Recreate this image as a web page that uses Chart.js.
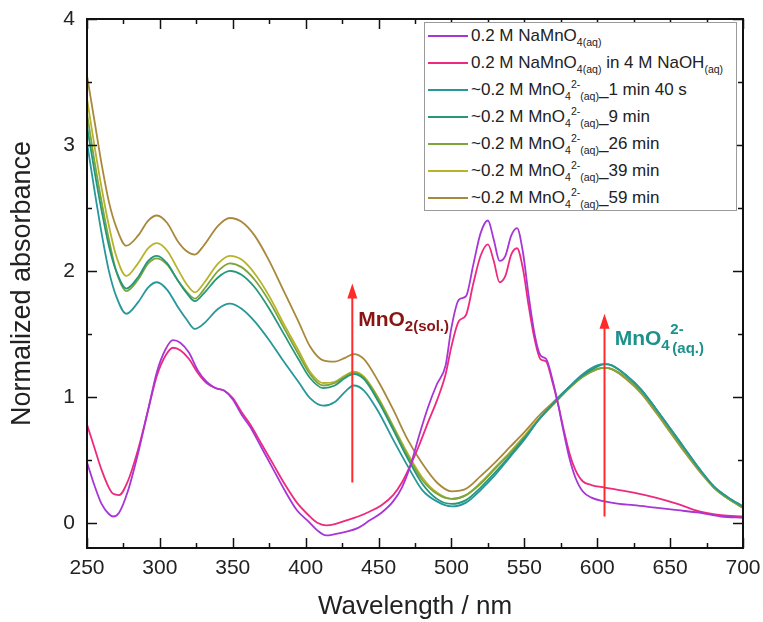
<!DOCTYPE html>
<html>
<head>
<meta charset="utf-8">
<script src="https://cdn.jsdelivr.net/npm/chart.js@4.4.1/dist/chart.umd.min.js"></script>
<style>
  body { margin: 0; background: #fff; }
  #wrap { position: relative; width: 763px; height: 622px; overflow: hidden; }
  #legend {
    position: absolute; left: 424px; top: 22px; width: 313px; height: 189px;
    border: 1px solid #9a9a9a; background: #fff; box-sizing: border-box;
    font-family: "Liberation Sans", Arial, sans-serif; font-size: 17px; color: #222;
  }
  .row { position: absolute; left: 0; height: 20px; white-space: nowrap; }
  .row .ln { position: absolute; left: 3px; top: 9px; width: 40px; height: 2px; }
  .row .tx { position: absolute; left: 46px; top: 0; line-height: 20px; }
  sub, sup { font-size: 0.62em; line-height: 0; }
  sub { vertical-align: -0.45em; }
  sup { vertical-align: 0.7em; }
</style>
</head>
<body>
<div id="wrap">
  <canvas id="c" width="763" height="622"></canvas>
  <div id="legend"></div>
</div>
<script>
// permanganate spectra (NaMnO4)
const wlPerm = [250, 255, 260, 265, 268, 272, 278, 285, 292, 298, 304, 309, 314, 320, 326, 332, 338, 344, 350, 356, 362, 370, 378, 386, 394, 402, 408, 414, 420, 428, 436, 444, 452, 460, 466, 472, 478, 484, 490, 496, 500, 505, 510, 515, 520, 525, 529, 533, 537, 541, 545, 549, 553, 557, 561, 565, 569, 573, 577, 581, 585, 590, 596, 605, 615, 625, 640, 655, 670, 685, 700];
const naMnO4 = [0.48, 0.30, 0.15, 0.07, 0.05, 0.08, 0.25, 0.55, 0.90, 1.20, 1.38, 1.45, 1.43, 1.35, 1.21, 1.12, 1.07, 1.05, 0.98, 0.86, 0.76, 0.59, 0.42, 0.25, 0.10, 0.01, -0.06, -0.10, -0.09, -0.07, -0.04, 0.02, 0.08, 0.17, 0.28, 0.46, 0.70, 0.92, 1.10, 1.25, 1.55, 1.77, 1.80, 2.05, 2.30, 2.40, 2.25, 2.08, 2.12, 2.28, 2.34, 2.15, 1.80, 1.50, 1.33, 1.30, 1.15, 0.95, 0.72, 0.51, 0.36, 0.25, 0.20, 0.17, 0.15, 0.14, 0.12, 0.10, 0.08, 0.05, 0.04];
const naMnO4NaOH = [0.78, 0.60, 0.42, 0.28, 0.23, 0.22, 0.33, 0.58, 0.90, 1.17, 1.33, 1.39, 1.37, 1.30, 1.19, 1.11, 1.07, 1.05, 0.99, 0.88, 0.78, 0.62, 0.46, 0.30, 0.16, 0.06, 0.00, -0.02, -0.01, 0.02, 0.05, 0.09, 0.14, 0.22, 0.32, 0.46, 0.62, 0.80, 0.97, 1.18, 1.40, 1.60, 1.65, 1.90, 2.12, 2.21, 2.08, 1.91, 1.96, 2.13, 2.18, 2.02, 1.72, 1.46, 1.30, 1.28, 1.13, 0.95, 0.74, 0.55, 0.42, 0.33, 0.30, 0.28, 0.26, 0.24, 0.20, 0.15, 0.09, 0.06, 0.05];

// manganate spectra over time
const wlMan = [250, 255, 260, 265, 270, 277, 285, 292, 298, 305, 312, 318, 324, 330, 340, 348, 356, 365, 375, 385, 395, 403, 412, 420, 427, 433, 440, 450, 460, 470, 480, 490, 500, 510, 520, 530, 540, 550, 560, 570, 580, 590, 600, 605, 610, 620, 630, 640, 650, 660, 670, 680, 690, 700];
const man1m40 = [3.02, 2.65, 2.30, 2.00, 1.80, 1.66, 1.75, 1.87, 1.91, 1.85, 1.72, 1.62, 1.54, 1.58, 1.70, 1.74, 1.70, 1.60, 1.45, 1.28, 1.12, 0.99, 0.93, 0.96, 1.04, 1.09, 1.05, 0.88, 0.66, 0.45, 0.26, 0.17, 0.13, 0.16, 0.26, 0.38, 0.52, 0.66, 0.82, 0.95, 1.07, 1.18, 1.25, 1.26, 1.25, 1.17, 1.06, 0.91, 0.75, 0.59, 0.43, 0.29, 0.20, 0.13];
const man9 = [3.15, 2.80, 2.48, 2.20, 2.00, 1.86, 1.95, 2.08, 2.12, 2.06, 1.93, 1.83, 1.76, 1.82, 1.95, 2.00, 1.97, 1.87, 1.70, 1.50, 1.30, 1.15, 1.07, 1.09, 1.15, 1.18, 1.14, 0.96, 0.74, 0.51, 0.31, 0.19, 0.15, 0.18, 0.28, 0.40, 0.53, 0.67, 0.82, 0.95, 1.07, 1.17, 1.24, 1.26, 1.25, 1.17, 1.06, 0.91, 0.75, 0.59, 0.43, 0.29, 0.20, 0.13];
const man26 = [3.25, 2.88, 2.55, 2.25, 2.00, 1.84, 1.93, 2.06, 2.10, 2.05, 1.93, 1.84, 1.78, 1.85, 2.00, 2.06, 2.03, 1.93, 1.76, 1.55, 1.34, 1.18, 1.09, 1.11, 1.16, 1.19, 1.15, 0.98, 0.76, 0.53, 0.34, 0.23, 0.19, 0.22, 0.31, 0.43, 0.55, 0.68, 0.82, 0.94, 1.06, 1.16, 1.22, 1.23, 1.22, 1.15, 1.04, 0.89, 0.73, 0.57, 0.42, 0.28, 0.19, 0.12];
const man39 = [3.37, 3.00, 2.66, 2.36, 2.12, 1.96, 2.06, 2.18, 2.22, 2.16, 2.02, 1.90, 1.83, 1.90, 2.06, 2.12, 2.09, 1.98, 1.80, 1.58, 1.37, 1.20, 1.11, 1.12, 1.17, 1.20, 1.16, 0.99, 0.77, 0.55, 0.36, 0.24, 0.19, 0.22, 0.32, 0.44, 0.56, 0.69, 0.83, 0.95, 1.06, 1.16, 1.22, 1.23, 1.22, 1.15, 1.04, 0.89, 0.73, 0.57, 0.42, 0.28, 0.19, 0.12];
const man59 = [3.55, 3.20, 2.85, 2.55, 2.35, 2.20, 2.28, 2.40, 2.44, 2.38, 2.24, 2.16, 2.13, 2.20, 2.36, 2.42, 2.39, 2.28, 2.08, 1.84, 1.60, 1.40, 1.29, 1.28, 1.31, 1.34, 1.30, 1.12, 0.90, 0.66, 0.47, 0.32, 0.25, 0.27, 0.37, 0.48, 0.60, 0.72, 0.85, 0.96, 1.07, 1.16, 1.22, 1.23, 1.22, 1.14, 1.03, 0.88, 0.72, 0.56, 0.41, 0.28, 0.19, 0.12];

const xTicks = [250, 300, 350, 400, 450, 500, 550, 600, 650, 700];
const yTicks = [0, 1, 2, 3, 4];

// red arrows: x, y start, y end
const arrowX = [432, 605];
const arrowY0 = [0.32, 0.05];
const arrowY1 = [1.90, 1.66];

const colors = ["#a835d6", "#ee2a7e", "#27979a", "#25977a", "#7ea53c", "#b8b32c", "#a8893c"];

const series = [
  { wl: wlPerm, v: naMnO4, html: "0.2 M NaMnO<sub>4(aq)</sub>" },
  { wl: wlPerm, v: naMnO4NaOH, html: "0.2 M NaMnO<sub>4(aq)</sub> in 4 M NaOH<sub>(aq)</sub>" },
  { wl: wlMan, v: man1m40, html: "~0.2 M MnO<sub>4</sub><sup>2-</sup><sub>(aq)</sub>_1 min 40 s" },
  { wl: wlMan, v: man9, html: "~0.2 M MnO<sub>4</sub><sup>2-</sup><sub>(aq)</sub>_9 min" },
  { wl: wlMan, v: man26, html: "~0.2 M MnO<sub>4</sub><sup>2-</sup><sub>(aq)</sub>_26 min" },
  { wl: wlMan, v: man39, html: "~0.2 M MnO<sub>4</sub><sup>2-</sup><sub>(aq)</sub>_39 min" },
  { wl: wlMan, v: man59, html: "~0.2 M MnO<sub>4</sub><sup>2-</sup><sub>(aq)</sub>_59 min" }
];

// html legend (needs sub/superscripts)
const legend = document.getElementById("legend");
series.forEach((s, i) => {
  const row = document.createElement("div");
  row.className = "row";
  row.style.top = (3 + i * 27) + "px";
  row.innerHTML = `<div class="ln" style="background:${colors[i]}"></div><div class="tx">${s.html}</div>`;
  legend.appendChild(row);
});

const FONT = "'Liberation Sans', Arial, sans-serif";

const framePlugin = {
  id: "frame",
  afterDatasetsDraw(chart) {
    const ctx = chart.ctx;
    const xs = chart.scales.x, ys = chart.scales.y;
    const a = chart.chartArea;

    // arrows
    ctx.save();
    ctx.strokeStyle = "#ff2a2a";
    ctx.fillStyle = "#ff2a2a";
    ctx.lineWidth = 2;
    arrowX.forEach((wx, i) => {
      const px = xs.getPixelForValue(wx);
      const p0 = ys.getPixelForValue(arrowY0[i]);
      const p1 = ys.getPixelForValue(arrowY1[i]);
      ctx.beginPath();
      ctx.moveTo(px, p0);
      ctx.lineTo(px, p1 + 12);
      ctx.stroke();
      ctx.beginPath();
      ctx.moveTo(px, p1);
      ctx.lineTo(px - 5, p1 + 15);
      ctx.lineTo(px + 5, p1 + 15);
      ctx.closePath();
      ctx.fill();
    });

    // labels
    ctx.textBaseline = "alphabetic";
    ctx.textAlign = "left";
    ctx.fillStyle = "#8a1414";
    let lx = xs.getPixelForValue(436), ly = ys.getPixelForValue(1.56);
    ctx.font = "bold 21px " + FONT;
    ctx.fillText("MnO", lx, ly);
    const w0 = ctx.measureText("MnO").width;
    ctx.font = "bold 15px " + FONT;
    ctx.fillText("2(sol.)", lx + w0, ly + 5);

    ctx.fillStyle = "#1d918c";
    const mx = xs.getPixelForValue(612), my = ys.getPixelForValue(1.41);
    ctx.font = "bold 21px " + FONT;
    ctx.fillText("MnO", mx, my);
    const w = ctx.measureText("MnO").width;
    ctx.font = "bold 15px " + FONT;
    ctx.fillText("4", mx + w, my + 5);
    ctx.fillText("2-", mx + w + 9, my - 11);
    ctx.fillText("(aq.)", mx + w + 11, my + 8);
    ctx.restore();

    // frame and inward ticks
    ctx.save();
    ctx.strokeStyle = "#111";
    ctx.lineWidth = 2;
    ctx.strokeRect(a.left, a.top, a.right - a.left, a.bottom - a.top);
    ctx.lineWidth = 1.5;
    ctx.beginPath();
    for (let v = 250; v <= 700; v += 25) {
      const px = Math.round(xs.getPixelForValue(v)) + 0.5;
      const len = v % 50 === 0 ? 10 : 5;
      ctx.moveTo(px, a.bottom); ctx.lineTo(px, a.bottom - len);
      ctx.moveTo(px, a.top); ctx.lineTo(px, a.top + len);
    }
    for (let v = 0; v <= 4; v += 0.5) {
      const py = Math.round(ys.getPixelForValue(v)) + 0.5;
      const len = v % 1 === 0 ? 10 : 5;
      ctx.moveTo(a.left, py); ctx.lineTo(a.left + len, py);
      ctx.moveTo(a.right, py); ctx.lineTo(a.right - len, py);
    }
    ctx.stroke();
    ctx.restore();
  }
};

new Chart(document.getElementById("c"), {
  type: "line",
  data: {
    datasets: series.map((s, i) => ({
      data: s.wl.map((w, j) => ({ x: w, y: s.v[j] })),
      borderColor: colors[i],
      borderWidth: 1.8,
      pointRadius: 0,
      cubicInterpolationMode: "monotone",
      fill: false
    }))
  },
  options: {
    responsive: false,
    animation: false,
    layout: { padding: { top: 19, right: 20, left: 0, bottom: 0 } },
    plugins: { legend: { display: false }, tooltip: { enabled: false } },
    scales: {
      x: {
        type: "linear",
        min: 250,
        max: 700,
        afterBuildTicks: s => { s.ticks = xTicks.map(v => ({ value: v })); },
        afterFit: s => { s.height = 74; s.paddingLeft = 0; s.paddingRight = 0; },
        grid: { display: false, drawTicks: false },
        border: { display: false },
        ticks: { padding: 8, color: "#222", font: { family: FONT, size: 21 }, maxRotation: 0 },
        title: { display: true, text: "Wavelength / nm", color: "#222",
                 font: { family: FONT, size: 26 }, padding: { top: 0, bottom: 0 } }
      },
      y: {
        min: -0.2,
        max: 4,
        afterBuildTicks: s => { s.ticks = yTicks.map(v => ({ value: v })); },
        afterFit: s => { s.width = 87; s.paddingTop = 0; s.paddingBottom = 0; },
        grid: { display: false, drawTicks: false },
        border: { display: false },
        ticks: { padding: 12, color: "#222", font: { family: FONT, size: 21 } },
        title: { display: true, text: "Normalized absorbance", color: "#222",
                 font: { family: FONT, size: 27 }, padding: { top: 6, bottom: 0 } }
      }
    }
  },
  plugins: [framePlugin]
});
</script>
</body>
</html>
